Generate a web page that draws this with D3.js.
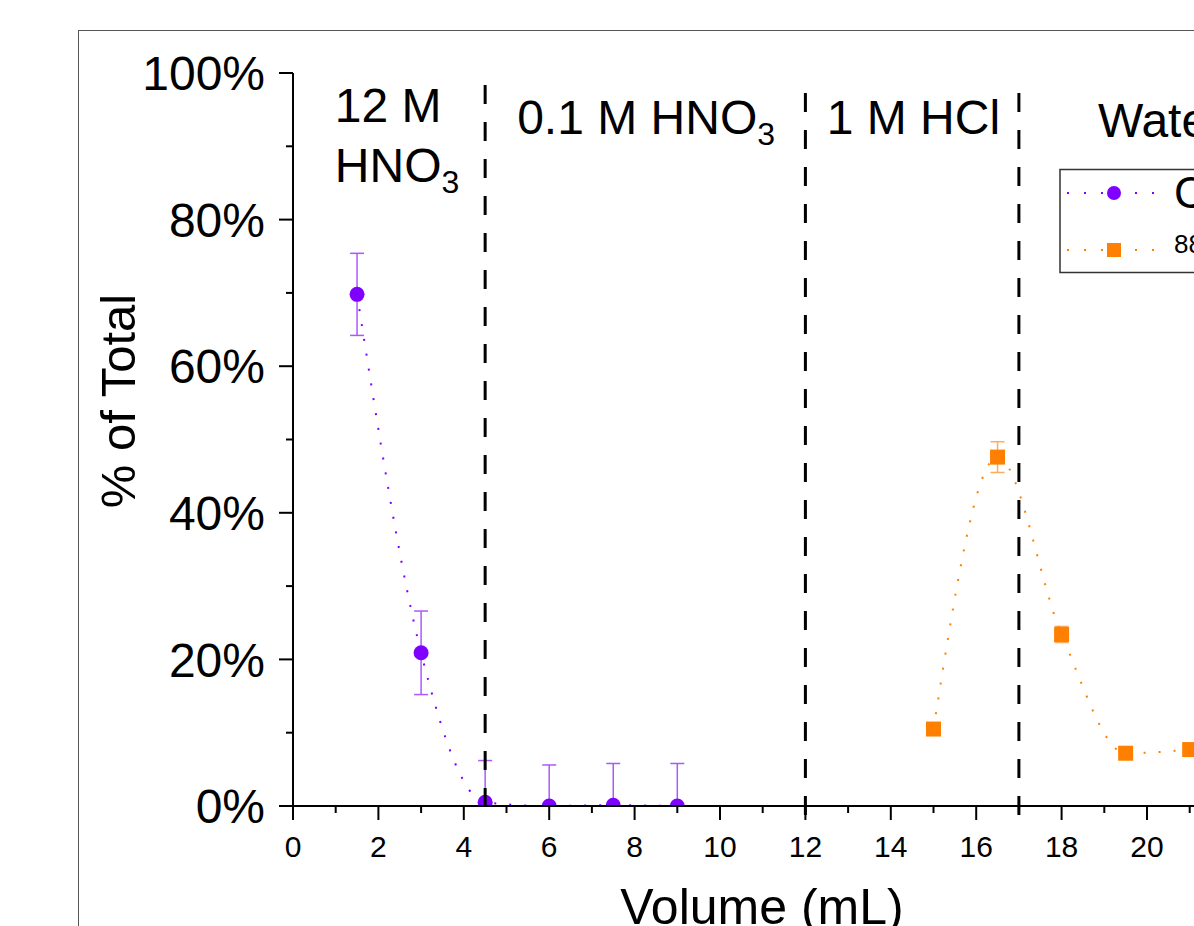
<!DOCTYPE html>
<html><head><meta charset="utf-8">
<script src="https://cdn.jsdelivr.net/npm/d3@7"></script>
<style>html,body{margin:0;padding:0;background:#fff;overflow:hidden}</style>
</head><body><svg id="c" width="1194" height="926"></svg>
<script>
// ---- data ----
const caVolume = [1.5, 3, 4.5, 6, 7.5, 9];
const caPercent = [69.8, 20.9, 0.5, 0.0, 0.1, 0.0];
const caError = [5.6, 5.7, 5.7, 5.6, 5.7, 5.8];
const yVolume = [15, 16.5, 18, 19.5, 21];
const yPercent = [10.5, 47.6, 23.4, 7.2, 7.7];
const yError = [0.5, 2.1, 1.1, 0.3, 0.3];
const dividers = [4.5, 12, 17];
const xMajorTicks = [0, 2, 4, 6, 8, 10, 12, 14, 16, 18, 20, 22];
const xMinorTicks = [1, 3, 5, 7, 9, 11, 13, 15, 17, 19, 21];
const yMajorTicks = [0, 20, 40, 60, 80, 100];
const yMinorTicks = [10, 30, 50, 70, 90];
const yTickLabels = ["0%", "20%", "40%", "60%", "80%", "100%"];
const seriesNames = ["Ca", "Y"];
const seriesSup = ["", "88"];
const xTitle = "Volume (mL)";
const yTitle = "% of Total";

const purple = "#8000ff", orange = "#ff8000";
const font = "'Liberation Sans', Arial, sans-serif";

const svg = d3.select("#c").style("font-family", font);
svg.append("rect").attr("width", 1194).attr("height", 926).attr("fill", "#fff");
// outer frame
svg.append("rect").attr("x", 78.5).attr("y", 30.5).attr("width", 1300).attr("height", 1000)
  .attr("fill", "none").attr("stroke", "#555").attr("stroke-width", 1);

const x = d3.scaleLinear().domain([0, 20]).range([293, 1147]);
const y = d3.scaleLinear().domain([0, 100]).range([806, 73]);

// clip for plot area
svg.append("defs").append("clipPath").attr("id", "pc")
  .append("rect").attr("x", x(0)).attr("y", 0).attr("width", 1000).attr("height", y(0));

const plot = svg.append("g").attr("clip-path", "url(#pc)");

function series(xs, ys, es, color, shape) {
  const pts = xs.map((v, i) => ({x: v, y: ys[i], e: es[i]}));
  plot.append("path").datum(pts)
    .attr("d", d3.line().x(d => x(d.x)).y(d => y(d.y)).curve(d3.curveMonotoneX))
    .attr("fill", "none").attr("stroke", color).attr("stroke-width", 2)
    .attr("stroke-dasharray", "2,13");
  const eb = plot.append("g").attr("stroke", color).attr("stroke-width", 1.5).attr("opacity", 0.65);
  pts.forEach(d => {
    eb.append("line").attr("x1", x(d.x)).attr("x2", x(d.x)).attr("y1", y(d.y - d.e)).attr("y2", y(d.y + d.e));
    [d.y - d.e, d.y + d.e].forEach(v => eb.append("line")
      .attr("x1", x(d.x) - 7).attr("x2", x(d.x) + 7).attr("y1", y(v)).attr("y2", y(v)));
  });
  pts.forEach(d => {
    if (shape === "circle") plot.append("circle").attr("cx", x(d.x)).attr("cy", y(d.y)).attr("r", 7.5).attr("fill", color);
    else plot.append("rect").attr("x", x(d.x) - 7.5).attr("y", y(d.y) - 7.5).attr("width", 15).attr("height", 15).attr("fill", color);
  });
}
series(caVolume, caPercent, caError, purple, "circle");
series(yVolume, yPercent, yError, orange, "square");

// dividers
dividers.forEach((v, i) => {
  const bottom = y(0) + (i === 0 ? 1 : 9);
  svg.append("line").attr("x1", x(v)).attr("x2", x(v)).attr("y1", bottom).attr("y2", y(98.6))
    .attr("stroke", "#000").attr("stroke-width", 3).attr("stroke-dasharray", "19,18");
});

// axes
const ax = svg.append("g").attr("stroke", "#000").attr("stroke-width", 2);
ax.append("line").attr("x1", x(0)).attr("x2", 1194).attr("y1", y(0)).attr("y2", y(0));
ax.append("line").attr("x1", x(0)).attr("x2", x(0)).attr("y1", y(0) + 1).attr("y2", y(100));
xMajorTicks.forEach(t => ax.append("line").attr("x1", x(t)).attr("x2", x(t)).attr("y1", y(0)).attr("y2", y(0) + 14));
xMinorTicks.forEach(t => ax.append("line").attr("x1", x(t)).attr("x2", x(t)).attr("y1", y(0)).attr("y2", y(0) + 7));
yMajorTicks.forEach(t => ax.append("line").attr("x1", x(0) - 14).attr("x2", x(0)).attr("y1", y(t)).attr("y2", y(t)));
yMinorTicks.forEach(t => ax.append("line").attr("x1", x(0) - 7).attr("x2", x(0)).attr("y1", y(t)).attr("y2", y(t)));

xMajorTicks.forEach(t => svg.append("text").attr("x", x(t)).attr("y", y(0) + 51)
  .attr("text-anchor", "middle").attr("font-size", 30).text(t));
yMajorTicks.forEach((t, i) => svg.append("text").attr("x", x(0) - 28).attr("y", y(t)).attr("dy", "0.36em")
  .attr("text-anchor", "end").attr("font-size", 48).text(yTickLabels[i]));

svg.append("text").attr("x", 762).attr("y", 924).attr("text-anchor", "middle").attr("font-size", 50).text(xTitle);
svg.append("text").attr("transform", "translate(135,401) rotate(-90)").attr("text-anchor", "middle")
  .attr("font-size", 49).text(yTitle);

// region labels
function label(xv, yPix, parts) {
  const t = svg.append("text").attr("x", x(xv)).attr("y", yPix).attr("font-size", 48);
  parts.forEach(p => {
    if (p.sub) t.append("tspan").attr("font-size", 32).attr("dy", 11).text(p.t);
    else t.append("tspan").text(p.t);
  });
}
label(0.98, 122, [{t: "12 M"}]);
label(0.98, 182, [{t: "HNO"}, {t: "3", sub: true}]);
label(5.25, 134, [{t: "0.1 M HNO"}, {t: "3", sub: true}]);
label(12.5, 134, [{t: "1 M HCl"}]);
label(18.85, 137, [{t: "Water"}]);

// legend
const lg = svg.append("g");
lg.append("rect").attr("x", 1060).attr("y", 169.5).attr("width", 300).attr("height", 103)
  .attr("fill", "#fff").attr("stroke", "#333").attr("stroke-width", 1.5);
[[purple, "circle", 193], [orange, "square", 250]].forEach(([c, s, yy], i) => {
  lg.append("line").attr("x1", 1067).attr("x2", 1160).attr("y1", yy).attr("y2", yy)
    .attr("stroke", c).attr("stroke-width", 2).attr("stroke-dasharray", "2,15");
  if (s === "circle") lg.append("circle").attr("cx", 1114).attr("cy", yy).attr("r", 7).attr("fill", c);
  else lg.append("rect").attr("x", 1107).attr("y", yy - 7).attr("width", 14).attr("height", 14).attr("fill", c);
  const t = lg.append("text").attr("x", 1174).attr("y", yy + 15).attr("font-size", 44);
  if (seriesSup[i]) {
    t.append("tspan").attr("font-size", 26).attr("dy", -12).text(seriesSup[i]);
    t.append("tspan").attr("dy", 12).text(seriesNames[i]);
  } else t.text(seriesNames[i]);
});
</script></body></html>
